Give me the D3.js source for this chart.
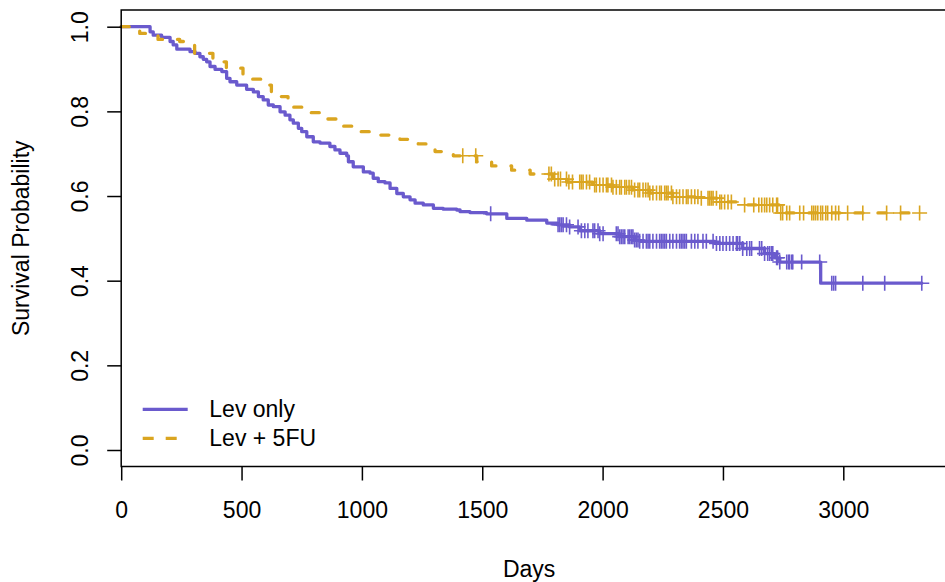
<!DOCTYPE html>
<html>
<head>
<meta charset="utf-8">
<script src="https://cdn.jsdelivr.net/npm/d3@7"></script>
<style>
  body { margin: 0; background: #fff; }
  text { font-family: "Liberation Sans", Arial, Helvetica, sans-serif; fill: #000; }
</style>
</head>
<body>
<script>
const W = 945, H = 582;
// plot region (right edge falls just off the canvas, like the reference)
const box = { left: 121.2, top: 10, bottom: 466.5, right: 948 };

// Lev only: [day, survival after the drop]
const levEvents = [
  [120, 0.988], [133, 0.980], [168, 0.975], [203, 0.965], [216, 0.957], [231, 0.947],
  [286, 0.941], [307, 0.937], [327, 0.929], [341, 0.923], [355, 0.917], [369, 0.906],
  [390, 0.899], [418, 0.894], [438, 0.878], [452, 0.870], [480, 0.862], [521, 0.852],
  [549, 0.846], [570, 0.835], [590, 0.827], [611, 0.815], [632, 0.811], [660, 0.799],
  [681, 0.791], [701, 0.780], [715, 0.772], [736, 0.760], [750, 0.752], [771, 0.740],
  [798, 0.728], [826, 0.725], [867, 0.717], [888, 0.709], [909, 0.701], [937, 0.695],
  [944, 0.681], [964, 0.669], [1006, 0.657], [1034, 0.654], [1047, 0.642], [1068, 0.634],
  [1096, 0.631], [1117, 0.618], [1145, 0.606], [1172, 0.598], [1200, 0.591], [1221, 0.583],
  [1255, 0.579], [1297, 0.571], [1338, 0.569], [1394, 0.567], [1408, 0.563], [1449, 0.561],
  [1518, 0.558], [1602, 0.547], [1685, 0.543], [1768, 0.536], [1813, 0.532], [1863, 0.527],
  [1905, 0.518], [1988, 0.511], [2071, 0.504], [2133, 0.496], [2154, 0.493], [2466, 0.488],
  [2582, 0.476], [2673, 0.464], [2715, 0.454], [2736, 0.444], [2906, 0.394]
];
const levCensor = [
  1535, 1815, 1822, 1829, 1836, 1850, 1863, 1898, 1912, 1926, 1939, 1960, 1967, 1981,
  1988, 2002, 2057, 2064, 2071, 2078, 2085, 2092, 2106, 2113, 2120, 2126, 2133, 2140,
  2147, 2154, 2168, 2182, 2189, 2196, 2209, 2224, 2237, 2244, 2251, 2258, 2265, 2279,
  2292, 2307, 2320, 2327, 2334, 2341, 2348, 2369, 2383, 2396, 2417, 2431, 2459, 2473,
  2487, 2500, 2514, 2528, 2542, 2556, 2561, 2570, 2582, 2599, 2611, 2619, 2652, 2661,
  2673, 2686, 2694, 2702, 2707, 2723, 2727, 2736, 2765, 2773, 2777, 2786, 2790, 2827,
  2902, 2952, 2960, 2968, 3081, 3172, 3326
];

// Lev + 5FU
const fuEvents = [
  [77, 0.984], [153, 0.970], [243, 0.965], [264, 0.959], [305, 0.937], [381, 0.917],
  [437, 0.902], [506, 0.876], [582, 0.862], [624, 0.835], [693, 0.810], [762, 0.797],
  [831, 0.782], [894, 0.765], [978, 0.752], [1068, 0.744], [1158, 0.734], [1234, 0.723],
  [1304, 0.705], [1380, 0.695], [1477, 0.681], [1539, 0.671], [1622, 0.661], [1699, 0.652],
  [1795, 0.640], [1851, 0.633], [1959, 0.626], [2042, 0.621], [2125, 0.614], [2196, 0.607],
  [2291, 0.598], [2404, 0.595], [2487, 0.586], [2590, 0.579], [2736, 0.560]
];
const fuCensor = [
  1419, 1473, 1777, 1787, 1801, 1815, 1825, 1850, 1860, 1875, 1905, 1912, 1919, 1933,
  1946, 1967, 1974, 1988, 2002, 2016, 2022, 2037, 2043, 2057, 2071, 2078, 2092, 2099,
  2110, 2120, 2133, 2147, 2154, 2168, 2179, 2189, 2196, 2209, 2224, 2237, 2244, 2258,
  2265, 2272, 2286, 2292, 2307, 2320, 2334, 2348, 2355, 2369, 2383, 2396, 2410, 2438,
  2445, 2452, 2459, 2473, 2487, 2494, 2507, 2521, 2535, 2590, 2628, 2649, 2661, 2673,
  2682, 2694, 2707, 2723, 2727, 2740, 2748, 2765, 2777, 2819, 2835, 2869, 2877, 2885,
  2894, 2906, 2914, 2927, 2935, 2952, 2968, 2981, 3018, 3081, 3180, 3238, 3317
];

const xTicks = [0, 500, 1000, 1500, 2000, 2500, 3000];
const yTicks = [0, 0.2, 0.4, 0.6, 0.8, 1.0];
const groups = ["Lev only", "Lev + 5FU"];
const colors = ["#6A5ACD", "#DAA520"];

const svg = d3.select("body").append("svg")
  .attr("width", W)
  .attr("height", H);

const x = d3.scaleLinear().domain([0, 3000]).range([box.left, box.left + 3000 * 0.2407]);
const y = d3.scaleLinear().domain([0, 1]).range([450, 26.7]);

// survival level at time t (right-continuous step)
function survAt(events, t) {
  let s = 1;
  for (const e of events) { if (e[0] <= t) s = e[1]; else break; }
  return s;
}

const line = d3.line()
  .x((d) => x(d[0]))
  .y((d) => y(d[1]))
  .curve(d3.curveStepAfter);

const series = [
  { name: groups[0], events: levEvents, censor: levCensor, color: colors[0], dash: null },
  { name: groups[1], events: fuEvents, censor: fuCensor, color: colors[1], dash: "8,15" }
];

const plot = svg.append("g");

series.forEach((s) => {
  const last = s.censor[s.censor.length - 1];
  const pts = [[0, 1]].concat(s.events, [[last, s.events[s.events.length - 1][1]]]);
  plot.append("path")
    .attr("d", line(pts))
    .attr("fill", "none")
    .attr("stroke", s.color)
    .attr("stroke-width", 3.3)
    .attr("stroke-linecap", "round")
    .attr("stroke-linejoin", "round")
    .attr("stroke-dasharray", s.dash);

  // censoring marks
  plot.selectAll(null)
    .data(s.censor)
    .join("path")
    .attr("d", (t) => {
      const cx = x(t), cy = y(survAt(s.events, t));
      return `M${cx - 7.5},${cy}H${cx + 7.5}M${cx},${cy - 7.5}V${cy + 7.5}`;
    })
    .attr("stroke", s.color)
    .attr("stroke-width", 1.6)
    .attr("fill", "none");
});

// frame
svg.append("rect")
  .attr("x", box.left)
  .attr("y", box.top)
  .attr("width", box.right - box.left)
  .attr("height", box.bottom - box.top)
  .attr("fill", "none")
  .attr("stroke", "#000")
  .attr("stroke-width", 1.5);

// x axis
const gx = svg.append("g")
  .attr("transform", `translate(0,${box.bottom})`)
  .call(d3.axisBottom(x).tickValues(xTicks).tickSize(14).tickFormat(d3.format("d")));
gx.select(".domain").remove();
gx.selectAll(".tick line").attr("stroke-width", 1.5);
gx.selectAll(".tick text")
  .attr("y", 51.8)
  .attr("dy", 0)
  .style("font-size", "23px");

// y axis
const gy = svg.append("g")
  .attr("transform", `translate(${box.left},0)`)
  .call(d3.axisLeft(y).tickValues(yTicks).tickSize(14).tickFormat(d3.format(".1f")));
gy.select(".domain").remove();
gy.selectAll(".tick line").attr("stroke-width", 1.5);
gy.selectAll(".tick text")
  .attr("transform", "rotate(-90)")
  .attr("x", 0)
  .attr("y", -(box.left - 87.5))
  .attr("dy", 0)
  .attr("text-anchor", "middle")
  .style("font-size", "23px");

// axis titles
svg.append("text")
  .attr("x", (box.left + 937) / 2)
  .attr("y", 576.5)
  .attr("text-anchor", "middle")
  .style("font-size", "23px")
  .text("Days");

svg.append("text")
  .attr("transform", `translate(29,${(box.top + box.bottom) / 2}) rotate(-90)`)
  .attr("text-anchor", "middle")
  .style("font-size", "23px")
  .text("Survival Probability");

// legend
const legend = svg.append("g");
series.forEach((s, i) => {
  const ly = 409.3 + i * 29;
  legend.append("line")
    .attr("x1", 142.7).attr("x2", 187.7)
    .attr("y1", ly).attr("y2", ly)
    .attr("stroke", s.color)
    .attr("stroke-width", 3.3)
    .attr("stroke-dasharray", s.dash ? "11,12" : null);
  legend.append("text")
    .attr("x", 209.3)
    .attr("y", ly + 8)
    .style("font-size", "23px")
    .text(s.name);
});
</script>
</body>
</html>
